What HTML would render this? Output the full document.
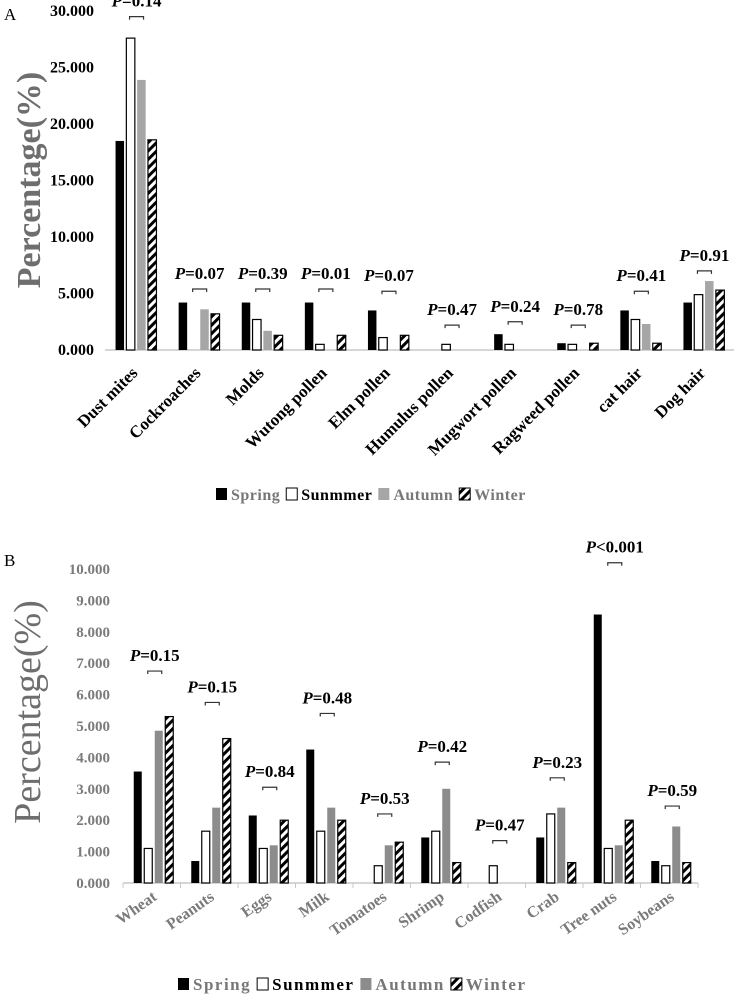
<!DOCTYPE html>
<html><head><meta charset="utf-8"><style>
html,body{margin:0;padding:0;background:#fff;}
svg{display:block;font-family:"Liberation Serif",serif;}
</style></head><body>
<svg id="fig" width="734" height="994" viewBox="0 0 734 994">
<defs>
<pattern id="hatch" patternUnits="userSpaceOnUse" width="6" height="6" patternTransform="rotate(45)">
<rect width="6" height="6" fill="#fff"/><rect width="3" height="6" fill="#000"/>
</pattern>
</defs>
<text x="4" y="20" font-size="17">A</text>
<text x="4" y="566" font-size="17">B</text>
<g id="chartA"></g>
<g id="chartB"></g>
</svg>
<script>
const catsA = ["Dust mites","Cockroaches","Molds","Wutong pollen","Elm pollen","Humulus pollen","Mugwort pollen","Ragweed pollen","cat hair","Dog hair"];
const springA = [18.5,4.2,4.2,4.2,3.5,0,1.4,0.6,3.5,4.2];
const summerA = [27.6,0,2.7,0.5,1.1,0.5,0.5,0.5,2.7,4.9];
const autumnA = [23.9,3.6,1.7,0,0,0,0,0,2.3,6.1];
const winterA = [18.6,3.2,1.3,1.3,1.3,0,0,0.6,0.6,5.3];
const pA = ["P=0.14","P=0.07","P=0.39","P=0.01","P=0.07","P=0.47","P=0.24","P=0.78","P=0.41","P=0.91"];
const bracketA = [29.5,5.4,5.4,5.4,5.2,2.2,2.5,2.2,5.2,7.0];
const ticksA = [0,5,10,15,20,25,30];

const catsB = ["Wheat","Peanuts","Eggs","Milk","Tomatoes","Shrimp","Codfish","Crab","Tree nuts","Soybeans"];
const springB = [3.55,0.7,2.15,4.25,0,1.45,0,1.45,8.55,0.7];
const summerB = [1.1,1.65,1.1,1.65,0.55,1.65,0.55,2.2,1.1,0.55];
const autumnB = [4.85,2.4,1.2,2.4,1.2,3.0,0,2.4,1.2,1.8];
const winterB = [5.3,4.6,2.0,2.0,1.3,0.65,0,0.65,2.0,0.65];
const pB = ["P=0.15","P=0.15","P=0.84","P=0.48","P=0.53","P=0.42","P=0.47","P=0.23","P<0.001","P=0.59"];
const bracketB = [6.75,5.75,3.05,5.4,2.2,3.85,1.35,3.35,10.2,2.45];
const ticksB = [0,1,2,3,4,5,6,7,8,9,10];

const NS="http://www.w3.org/2000/svg";
function mk(parent,tag,attrs){const e=document.createElementNS(NS,tag);for(const k in attrs)e.setAttribute(k,attrs[k]);parent.appendChild(e);return e;}

function draw(cfg){
  const g=document.getElementById(cfg.id);
  const y=v=>cfg.base-(v-0)*cfg.scale;
  const cx=i=>cfg.x0+(i+0.5)*cfg.pitch;
  const ax=mk(g,"line",{x1:cfg.x0,x2:cfg.x0+cfg.pitch*cfg.cats.length,y1:cfg.base,y2:cfg.base,stroke:"#c8c8c8","stroke-width":1.5});
  
  
  if(cfg.tickMarks){for(let i=0;i<=cfg.cats.length;i++){const t=mk(g,"line",{x1:cfg.x0+i*cfg.pitch,x2:cfg.x0+i*cfg.pitch,y1:cfg.base,y2:cfg.base+5,stroke:"#c8c8c8"});
    
    }}
  cfg.ticks.forEach(v=>{const t=mk(g,"text",{x:cfg.tickX,y:y(v)+5,"text-anchor":"end","font-size":cfg.tickFs,"font-weight":"bold",fill:cfg.tickColor});
    t.textContent=v.toFixed(3);
    
    });
  const yt=mk(g,"text",{x:0,y:0,transform:`translate(${cfg.titleX},${cfg.titleY}) rotate(-90)`,"text-anchor":"middle","font-size":cfg.titleFs,"font-weight":cfg.titleW,fill:"#6e6e6e"});
  yt.textContent="Percentage(%)";
  
  
  const series=[cfg.s1,cfg.s2,cfg.s3,cfg.s4];
  const fills=["#000","#fff",cfg.autumnColor,"url(#hatch)"];
  const names=["spring","summer","autumn","winter"];
  cfg.cats.forEach((c,i)=>{
    series.forEach((s,k)=>{
      const v=s[i]; if(v<=0) return;
      const bx=cx(i)+cfg.off+k*cfg.step;
      const r=mk(g,"rect",{x:bx,y:y(v),width:cfg.bw,height:cfg.base-y(v),fill:fills[k],stroke:(k==1||k==3)?"#000":"none","stroke-width":1.2});
      
      
    });
    const by=y(cfg.br[i]); const bc=cx(i)+cfg.brShift;
    const b=mk(g,"path",{d:`M${bc-7},${by+3}V${by}H${bc+7}V${by+3}`,fill:"none",stroke:"#333","stroke-width":1.2});
    
    
    const pt=mk(g,"text",{x:bc,y:by-10,"text-anchor":"middle","font-size":cfg.pFs,"font-weight":"bold"});
    const pi=mk(pt,"tspan",{"font-style":"italic"});pi.textContent="P";
    const pr=mk(pt,"tspan",{});pr.textContent=cfg.p[i].slice(1);
    
    
    const lx=cx(i)+cfg.lblDx, ly=cfg.base+cfg.lblDy;
    const l=mk(g,"text",{x:0,y:0,transform:`translate(${lx},${ly}) rotate(${cfg.rot})`,"text-anchor":"end","font-size":cfg.lblFs,"font-weight":"bold",fill:cfg.lblColor});
    l.textContent=c;
    
    
  });
  let lx=cfg.legX; const ly=cfg.legY;
  const lnames=["Spring","Sunmmer","Autumn","Winter"];
  lnames.forEach((n,k)=>{
    const r=mk(g,"rect",{x:lx,y:ly-12,width:11,height:12,fill:fills[k],stroke:(k==1||k==3)?"#000":"none"});
    
    
    const t=mk(g,"text",{x:lx+15,y:ly,"font-size":cfg.legFs,"font-weight":"bold","letter-spacing":cfg.legLs,fill:k==1?"#000":"#777"});
    t.textContent=n;
    
    
    lx+=15+t.getComputedTextLength()+6;
  });
}

draw({id:"chartA",cats:catsA,s1:springA,s2:summerA,s3:autumnA,s4:winterA,p:pA,br:bracketA,ticks:ticksA,
  base:350,scale:11.3,x0:105,pitch:63.1,off:-21,step:10.8,bw:8.5,brShift:0,autumnColor:"#a6a6a6",
  tickX:94,tickFs:16,tickColor:"#000",titleX:40,titleY:180,titleFs:34,titleW:"bold",
  pFs:17,lblDx:2,lblDy:24,rot:-45,lblFs:17,lblColor:"#000",legX:216,legY:500,legFs:16,legLs:0.5,tickMarks:false});
draw({id:"chartB",cats:catsB,s1:springB,s2:summerB,s3:autumnB,s4:winterB,p:pB,br:bracketB,ticks:ticksB,
  base:883,scale:31.4,x0:123,pitch:57.5,off:-18,step:10.5,bw:8,brShift:3,autumnColor:"#8c8c8c",
  tickX:110,tickFs:15,tickColor:"#7a7a7a",titleX:40,titleY:712,titleFs:38,titleW:"normal",
  pFs:17,lblDx:6,lblDy:16,rot:-35,lblFs:16,lblColor:"#7a7a7a",legX:178,legY:990,legFs:17,legLs:1.5,tickMarks:true});
</script>
</body></html>
